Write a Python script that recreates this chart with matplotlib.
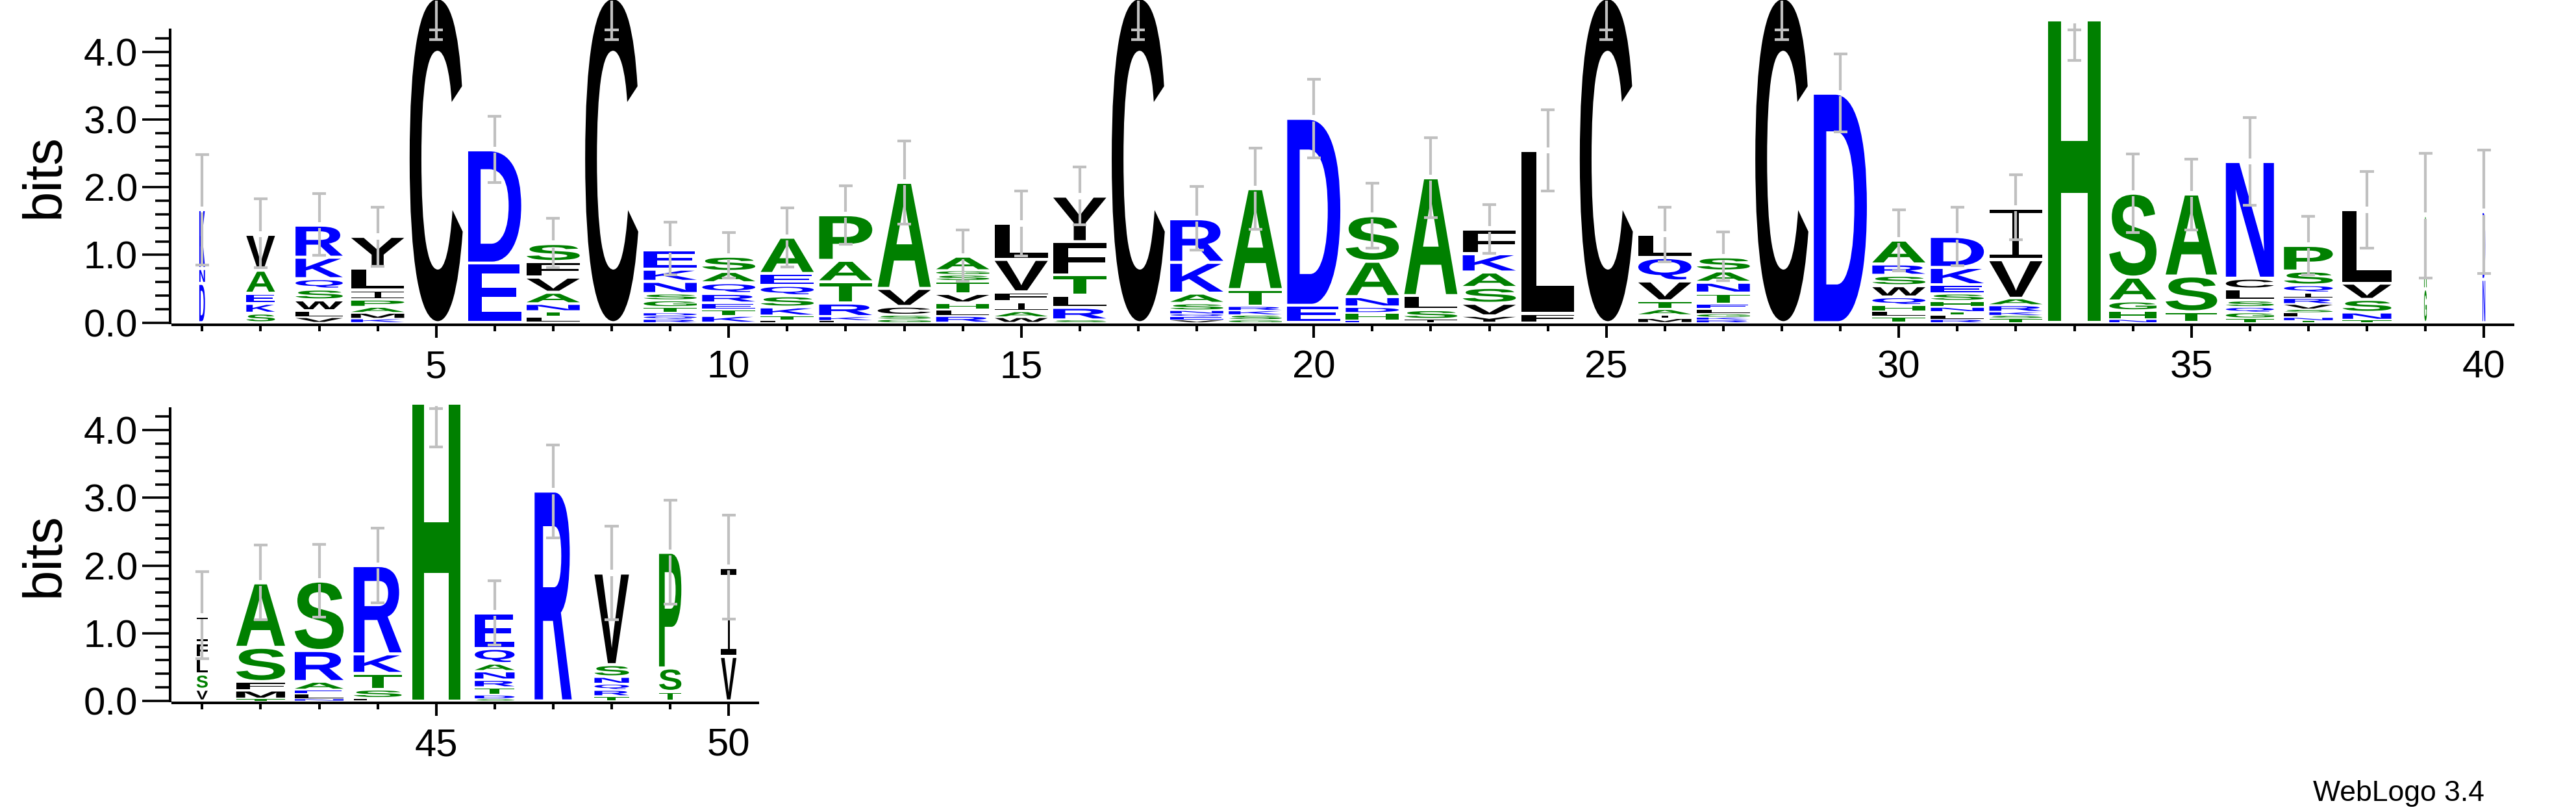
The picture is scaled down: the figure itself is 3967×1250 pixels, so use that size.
import numpy as np
import matplotlib
matplotlib.use("Agg")
import matplotlib.pyplot as plt
from matplotlib.textpath import TextPath
from matplotlib.patches import PathPatch
from matplotlib.path import Path
from matplotlib.transforms import Affine2D, Bbox
from matplotlib.font_manager import FontProperties

plt.rcParams['font.family'] = 'Liberation Sans'

# sequence logo: letters of each stack listed bottom -> top, heights in bits
stacks = [
    [("D", .58), ("N", .22), ("K", .87)],                                             # 1
    [("S", .14), ("K", .145), ("E", .15), ("A", .34), ("V", .53)],                    # 2
    [("V", .08), ("L", .096), ("W", .16), ("S", .16), ("Q", .154), ("K", .317), ("R", .474)],
    [("K", .058), ("M", .087), ("A", .087), ("P", .11), ("I", .138), ("L", .33), ("Y", .465)],
    [("C", 4.8)],                                                                     # 5
    [("E", .88), ("D", 1.673)],
    [("L", .09), ("T", .077), ("N", .112), ("A", .17), ("V", .224), ("F", .23), ("S", .266)],
    [("C", 4.8)],
    [("R", .05), ("Q", .05), ("D", .045), ("T", .085), ("G", .1), ("S", .1), ("N", .18), ("K", .18), ("E", .29)],
    [("K", .1), ("T", .096), ("E", .096), ("R", .138), ("Q", .16), ("A", .167), ("S", .224)],   # 10
    [("L", .03), ("T", .07), ("K", .13), ("S", .167), ("Q", .154), ("E", .176), ("A", .535)],
    [("L", .03), ("K", .06), ("R", .2), ("T", .314), ("A", .317), ("P", .673)],
    [("G", .048), ("S", .064), ("C", .128), ("V", .266), ("A", 1.567)],
    [("R", .1), ("L", .096), ("H", .096), ("V", .138), ("T", .186), ("S", .093), ("G", .058), ("A", .215)],
    [("W", .08), ("A", .087), ("I", .144), ("F", .144), ("V", .48), ("L", .532)],   # 15
    [("S", .04), ("R", .186), ("L", .176), ("T", .304), ("F", .49), ("Y", .673)],
    [("C", 4.8)],
    [("V", .04), ("E", .05), ("Q", .04), ("N", .05), ("S", .106), ("A", .15), ("K", .455), ("R", .644)],
    [("G", .04), ("S", .074), ("K", .064), ("R", .064), ("T", .247), ("A", 1.49)],
    [("E", .256), ("D", 2.763)],                                                      # 20
    [("E", .032), ("H", .112), ("D", .087), ("N", .154), ("A", .522), ("S", .673)],
    [("I", .048), ("S", .144), ("L", .208), ("A", 1.74)],
    [("Y", .1), ("V", .186), ("S", .234), ("A", .228), ("K", .27), ("F", .365)],
    [("F", .135), ("L", 2.413)],
    [("C", 4.8)],                                                                     # 25
    [("M", .064), ("I", .048), ("A", .087), ("T", .122), ("V", .295), ("Q", .346), ("L", .343)],
    [("R", .04), ("K", .04), ("G", .05), ("L", .074), ("E", .07), ("T", .163), ("N", .16), ("A", .167), ("S", .208)],
    [("C", 4.8)],
    [("D", 3.39)],
    [("T", .087), ("L", .083), ("H", .087), ("Q", .122), ("W", .167), ("S", .154), ("R", .167), ("A", .353)],  # 30
    [("R", .048), ("L", .064), ("T", .048), ("N", .07), ("H", .09), ("S", .112), ("E", .128), ("K", .256), ("D", .458)],
    [("T", .064), ("S", .042), ("K", .055), ("R", .096), ("A", .103), ("V", .57), ("I", .763)],
    [("H", 4.47)],
    [("N", .048), ("H", .128), ("G", .144), ("A", .353), ("S", 1.24)],
    [("T", .16), ("S", .529), ("A", 1.212)],                                          # 35
    [("T", .064), ("G", .087), ("Q", .08), ("S", .096), ("L", .17), ("C", .16), ("N", 1.724)],
    [("T", .03), ("N", .048), ("L", .07), ("S", .048), ("V", .08), ("R", .087), ("I", .08), ("Q", .112), ("S", .208), ("P", .378)],
    [("T", .04), ("N", .112), ("S", .192), ("V", .24), ("L", 1.083)],
    [("G", .5), ("A", 1.08)],
    [("N", .64), ("D", 1.0)],                                                         # 40
    [("V", .173), ("S", .224), ("L", .24), ("F", .224), ("I", .394)],
    [("T", .03), ("M", .128), ("F", .128), ("S", .506), ("A", .952)],
    [("N", .03), ("L", .074), ("E", .058), ("A", .125), ("R", .458), ("S", 1.026)],
    [("L", .038), ("S", .135), ("T", .234), ("K", .288), ("R", 1.304)],
    [("H", 4.40)],                                                                    # 45
    [("S", .03), ("D", .058), ("T", .112), ("R", .112), ("N", .128), ("A", .112), ("Q", .224), ("E", .522)],
    [("R", 3.1)],
    [("T", .07), ("R", .093), ("Q", .09), ("N", .103), ("S", .18), ("V", 1.353)],
    [("T", .141), ("S", .346), ("P", 1.708)],
    [("V", .657), ("I", 1.314)],                                                      # 50
]

# fraction of the full stack width (gap-scaled columns)
stack_width = [0.107, 0.54, 0.89] + [1.0] * 30 + [0.89, 0.97, 0.906, 0.92, 0.92, 0.05, 0.05,
               0.21, 0.92, 0.92, 0.906, 0.906, 0.75, 0.70, 0.65, 0.42, 0.29]

err_lo = [0.849, 0.817, 0.994, 0.833, 4.183, 2.067, 0.811, 4.183, 0.712, 0.657,
          0.827, 1.163, 1.458, 0.615, 0.984, 1.442, 4.183, 1.074, 1.378, 2.436,
          1.099, 1.548, 1.026, 1.946, 4.183, 0.897, 0.619, 4.183, 2.821, 0.763,
          0.84, 1.224, 3.878, 1.33, 1.369, 1.737, 0.705, 1.099, 0.657, 0.731,
          0.622, 1.199, 1.24, 1.449, 3.756, 0.824, 2.41, 1.199, 1.433, 1.208]
err_hi = [2.484, 1.827, 1.907, 1.705, 5.4, 3.045, 1.545, 5.4, 1.481, 1.33,
          1.699, 2.026, 2.686, 1.372, 1.949, 2.301, 5.4, 2.013, 2.58, 3.599,
          2.061, 2.734, 1.747, 3.147, 5.4, 1.705, 1.34, 5.4, 3.974, 1.667,
          1.705, 2.186, 5.0, 2.494, 2.42, 3.029, 1.571, 2.234, 2.506, 2.554,
          1.913, 2.304, 2.314, 2.554, 5.0, 1.779, 3.779, 2.577, 2.962, 2.747]

colors = {}
for c in "RKDENQ":
    colors[c] = "#0000ff"
for c in "SGHTAP":
    colors[c] = "#008000"
for c in "YVMCLFIW":
    colors[c] = "#000000"

MAXBITS = np.log2(20)
FULL_W = 0.907
ERR_COLOR = "#c0c0c0"

font_main = FontProperties(family="Liberation Sans", weight="bold")
_glyphs = {}


def rect(x0, y0, x1, y1):
    return Path([(x0, y0), (x1, y0), (x1, y1), (x0, y1), (x0, y0)],
                [Path.MOVETO, Path.LINETO, Path.LINETO, Path.LINETO, Path.CLOSEPOLY])


def glyph(ch):
    if ch not in _glyphs:
        if ch == "I":
            # serif I-beam like the logo font
            tp = Path.make_compound_path(rect(0, 0, 1, .07), rect(.44, .07, .56, .93),
                                         rect(0, .93, 1, 1))
            _glyphs[ch] = (tp, Bbox([[0, 0], [1, 1]]))
        else:
            tp = TextPath((0, 0), ch, size=1, prop=font_main)
            _glyphs[ch] = (tp, tp.get_extents())
    return _glyphs[ch]


def draw_letter(ax, ch, x0, y0, w, h):
    tp, ext = glyph(ch)
    t = (Affine2D().translate(-ext.x0, -ext.y0)
         .scale(w / ext.width, h / ext.height).translate(x0, y0))
    ax.add_patch(PathPatch(t.transform_path(tp), fc=colors[ch], ec="none", lw=0,
                           clip_on=False, zorder=2))


def draw_stack(ax, pos, letters, wfrac, lo, hi):
    w = FULL_W * wfrac
    x0 = pos - w / 2
    y = 0.0
    for ch, h in letters:
        g = min(0.045, 0.3 * h)
        draw_letter(ax, ch, x0, y + g / 2, w, h - g)
        y += h
    top = y
    hi_c = min(hi, MAXBITS)
    gap = 0.045
    kw = dict(color=ERR_COLOR, lw=3.0, solid_capstyle='butt', clip_on=False, zorder=3)
    ax.plot([pos, pos], [lo, top - gap], **kw)
    if hi_c > top + gap:
        ax.plot([pos, pos], [top + gap, hi_c], **kw)
    cw = 0.117
    for yv in (lo, hi_c):
        ax.plot([pos - cw, pos + cw], [yv, yv], **kw)


W, H = 3967, 1250
PPB = 104.2
fig = plt.figure(figsize=(W / 100, H / 100), dpi=100)


def make_axes(left_px, base_px, n):
    width = n * 90.1
    height = MAXBITS * PPB
    return fig.add_axes([left_px / W, 1 - base_px / H, width / W, height / H])


ax1 = make_axes(266.25, 496.7, 40)
ax2 = make_axes(266.25, 1079, 10)

for ax, first, last, base in ((ax1, 1, 40, 496.7), (ax2, 41, 50, 1079)):
    ax.set_xlim(first - 0.5, last + 0.5)
    ax.set_ylim(0, MAXBITS)
    ax.patch.set_visible(False)
    for s in ('top', 'right'):
        ax.spines[s].set_visible(False)
    ax.spines['left'].set_position(('outward', 3))
    ax.spines['bottom'].set_position(('outward', 2.4))
    ax.spines['left'].set_linewidth(2.9)
    ax.spines['bottom'].set_linewidth(2.9)
    ax.set_xticks([p for p in range(first, last + 1) if p % 5 == 0])
    ax.set_xticks(range(first, last + 1), minor=True)
    ax.set_yticks(range(5))
    ax.set_yticks(np.arange(0, 4.3, 0.2), minor=True)
    ax.yaxis.set_major_formatter('{x:.1f}')
    ax.tick_params(axis='x', which='major', length=14.4, width=2.9, pad=13, labelsize=43)
    ax.tick_params(axis='x', which='minor', length=7.2, width=2.9)
    ax.tick_params(axis='y', which='major', length=31, width=2.6, pad=5, labelsize=43)
    ax.tick_params(axis='y', which='minor', length=16.5, width=2.6)

    for i in range(first - 1, last):
        draw_stack(ax, i + 1, stacks[i], stack_width[i], err_lo[i], err_hi[i])

    mid = base - MAXBITS * PPB / 2
    fig.text(69 / W, 1 - mid / H, "bits", rotation=90, fontsize=60,
             ha='center', va='center')

fig.text(3826 / W, 1 - 1233 / H, "WebLogo 3.4", fontsize=32, ha='right', va='baseline')

fig.savefig("out.png", dpi=100)
